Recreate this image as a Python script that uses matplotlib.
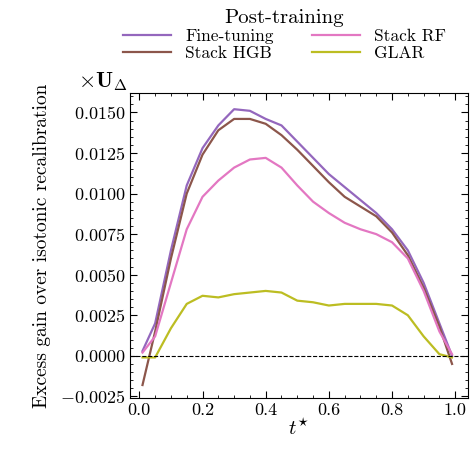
import numpy as np
import matplotlib
matplotlib.use("Agg")
import matplotlib.pyplot as plt
from matplotlib.ticker import AutoMinorLocator

plt.rcParams['font.family'] = 'serif'
plt.rcParams['font.serif'] = ['cmr10']
plt.rcParams['mathtext.fontset'] = 'cm'
plt.rcParams['axes.formatter.use_mathtext'] = True
plt.rcParams['font.size'] = 13

t = [0.01, 0.05, 0.1, 0.15, 0.2, 0.25, 0.3, 0.35, 0.4, 0.45, 0.5,
     0.55, 0.6, 0.65, 0.7, 0.75, 0.8, 0.85, 0.9, 0.95, 0.99]
fine_tuning = [0.0003, 0.0020, 0.0065, 0.0105, 0.0128, 0.0142, 0.0152, 0.0151, 0.0146, 0.0142, 0.0132,
               0.0122, 0.0112, 0.0104, 0.0096, 0.0088, 0.0078, 0.0065, 0.0045, 0.0020, 0.0000]
stack_hgb = [-0.0018, 0.0015, 0.0060, 0.0100, 0.0124, 0.0139, 0.0146, 0.0146, 0.0143, 0.0136, 0.0127,
             0.0117, 0.0107, 0.0098, 0.0092, 0.0086, 0.0076, 0.0062, 0.0042, 0.0018, -0.0005]
stack_rf = [0.0002, 0.0012, 0.0045, 0.0078, 0.0098, 0.0108, 0.0116, 0.0121, 0.0122, 0.0116, 0.0105,
            0.0095, 0.0088, 0.0082, 0.0078, 0.0075, 0.0070, 0.0060, 0.0040, 0.0015, 0.0001]
glar = [-0.0001, -0.0001, 0.0017, 0.0032, 0.0037, 0.0036, 0.0038, 0.0039, 0.0040, 0.0039, 0.0034,
        0.0033, 0.0031, 0.0032, 0.0032, 0.0032, 0.0031, 0.0025, 0.0012, 0.0001, -0.0001]

fig = plt.figure(figsize=(4.74, 4.58), dpi=100)
ax = fig.add_axes([0.274, 0.131, 0.713, 0.666])
ax.plot(t, fine_tuning, color='#9467bd', lw=1.6, label='Fine-tuning')
ax.plot(t, stack_hgb, color='#8c564b', lw=1.6, label='Stack HGB')
ax.plot(t, stack_rf, color='#e377c2', lw=1.6, label='Stack RF')
ax.plot(t, glar, color='#bcbd22', lw=1.6, label='GLAR')
ax.axhline(0, color='k', ls='--', lw=0.8)

ax.set_xlim(-0.03, 1.04)
ax.set_ylim(-0.0026, 0.0162)
ax.set_xticks([0, 0.2, 0.4, 0.6, 0.8, 1.0])
ax.set_xticklabels(['0.0', '0.2', '0.4', '0.6', '0.8', '1.0'])
ax.set_yticks(np.arange(-0.0025, 0.0151, 0.0025))
ax.yaxis.set_major_formatter(plt.FuncFormatter(lambda v, p: '$%.4f$' % v))
ax.xaxis.set_minor_locator(AutoMinorLocator(4))
ax.yaxis.set_minor_locator(AutoMinorLocator(5))
ax.tick_params(which='both', direction='in', top=True, right=True)
ax.tick_params(which='major', length=5)
ax.tick_params(which='minor', length=2.5)
ax.set_xlabel(r'$t^{\star}$', labelpad=0, fontsize=15)
ax.set_ylabel('Excess gain over isotonic recalibration', fontsize=14, labelpad=6)
ax.text(-0.08, 1.0, r'$\times \mathbf{U}_{\Delta}$', transform=ax.transAxes, fontsize=16, ha='center', va='bottom')

fig.legend(title='Post-training', ncol=2,
           loc='upper center', bbox_to_anchor=(0.6, 1.015), frameon=False,
           handlelength=2.8, columnspacing=2.2, labelspacing=0.1, title_fontsize=15, fontsize=12.5)

fig.savefig('out.png', dpi=100)
